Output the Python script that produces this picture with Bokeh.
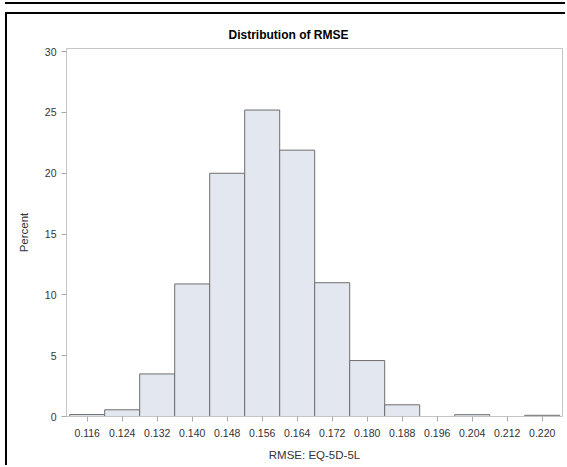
from bokeh.plotting import figure
from bokeh.models import ColumnDataSource, FixedTicker, Range1d, NumeralTickFormatter
from bokeh.embed import file_html
from bokeh.resources import INLINE

# data
bin_centers = [0.116, 0.124, 0.132, 0.140, 0.148, 0.156, 0.164, 0.172, 0.180, 0.188, 0.196, 0.204, 0.212, 0.220]
percent = [0.16, 0.55, 3.5, 10.9, 20.0, 25.2, 21.9, 11.0, 4.6, 0.96, 0.0, 0.15, 0.0, 0.1]
bin_width = 0.008
y_ticks = [0, 5, 10, 15, 20, 25, 30]
title_text = "Distribution of RMSE"
x_label = "RMSE: EQ-5D-5L"
y_label = "Percent"

src = ColumnDataSource(dict(x=bin_centers, top=percent))

p = figure(width=560, height=453, output_backend="svg", toolbar_location=None,
           x_range=Range1d(0.11127, 0.22464), y_range=Range1d(0, 30.26),
           min_border_left=59, min_border_right=5, min_border_top=34, min_border_bottom=51,
           styles={"border-left": "2px solid #000", "border-top": "2px solid #000",
                   "margin-left": "5px", "margin-top": "12px",
                   "box-shadow": "0 -8px 0 0 #fff, 0 -10px 0 0 #000"})

p.vbar(x="x", top="top", width=bin_width, bottom=0, source=src,
       fill_color="#e2e7f0", line_color="#6e6e6e", line_width=1)

p.title.text = title_text
p.title.align = "left"
p.title.offset = 162
p.title.text_font = "Liberation Sans"
p.title.text_font_size = "12px"
p.title.text_font_style = "bold"
p.title.text_color = "#000000"
p.title.text_line_height = 0.6
p.title.standoff = 13

p.outline_line_color = "#c4c4c4"
p.outline_line_width = 1
p.xgrid.visible = False
p.ygrid.visible = False
p.background_fill_color = "white"
p.border_fill_color = "white"

xa = p.xaxis[0]
xa.ticker = FixedTicker(ticks=bin_centers)
xa.formatter = NumeralTickFormatter(format="0.000")
xa.axis_label = x_label
ya = p.yaxis[0]
ya.ticker = FixedTicker(ticks=y_ticks)
ya.axis_label = y_label

for ax in (xa, ya):
    ax.axis_line_color = "#c4c4c4"
    ax.major_tick_line_color = "#a8a8a8"
    ax.major_tick_out = 5
    ax.major_tick_in = 0
    ax.minor_tick_line_color = None
    ax.major_label_text_font = "Liberation Sans"
    ax.major_label_text_font_size = "10.5px"
    ax.major_label_text_color = "#333333"
    ax.axis_label_text_font = "Liberation Sans"
    ax.axis_label_text_font_size = "11.5px"
    ax.axis_label_text_font_style = "normal"
    ax.axis_label_text_color = "#333333"
    ax.major_label_standoff = 5

xa.major_label_standoff = 7
xa.axis_label_standoff = 9
ya.axis_label_standoff = 12

open("out.html", "w").write(file_html(p, INLINE))
